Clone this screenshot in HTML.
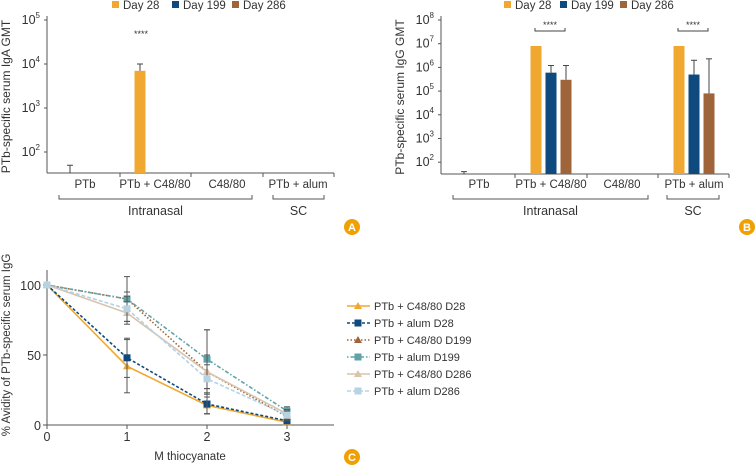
<!DOCTYPE html>
<html><head><meta charset="utf-8"><style>
body{margin:0;background:#fff;width:756px;height:466px;overflow:hidden;font-family:"Liberation Sans",sans-serif}
svg text{font-family:"Liberation Sans",sans-serif;fill:#333}
</style></head><body>
<svg id="s" width="756" height="466" xmlns="http://www.w3.org/2000/svg"></svg>
<script>
const days=["Day 28","Day 199","Day 286"];
const dayColors=["#f0a830","#0f4a7e","#a0643a"];
const groups=["PTb","PTb + C48/80","C48/80","PTb + alum"];
// Panel A (IgA) values per group per day (null = none)
const igaVals=[[null,null,null],[7000,null,null],[null,null,null],[null,null,null]];
const igaErr=[[50,null,null],[10000,null,null],[null,null,null],[null,null,null]];
// Panel B (IgG)
const iggVals=[[null,null,null],[8e6,6e5,3e5],[null,null,null],[8e6,5e5,8e4]];
const iggErr=[[40,null,null],[null,1.2e6,1.2e6],[null,null,null],[null,2e6,2.3e6]];
// Panel C
const xCats=[0,1,2,3];
const seriesNames=["PTb + C48/80 D28","PTb + alum D28","PTb + C48/80 D199","PTb + alum D199","PTb + C48/80 D286","PTb + alum D286"];
const s1=[100,42,14,2];
const s2=[100,48,15,3];
const s3=[100,90,38,6];
const s4=[100,90,47,10];
const s5=[100,80,38,8];
const s6=[100,83,33,7];
const e1=[0,19,6,1];
const e2=[0,14,7,1];
const e3=[0,16,30,3];
const e4=[0,5,21,3];
const e5=[0,8,12,3];
const e6=[0,9,10,3];
const NS="http://www.w3.org/2000/svg",S=document.getElementById('s');
function el(t,a,p){const e=document.createElementNS(NS,t);for(const k in a)e.setAttribute(k,a[k]);(p||S).appendChild(e);return e;}
function txt(x,y,s,a,p){const e=el('text',Object.assign({x:x,y:y},a||{}),p);e.textContent=s;return e;}

function barPanel(ox,pre,yTop,decTop,dec,vals,errs,ylabel,ticks,bottomY,axR,cats,gTicks,brackets,sig,legX){
  const g=el('g',{});
  const y=v=>yTop+(decTop-Math.log10(v))*dec;
  days.forEach((d,i)=>{const lg=el('g',{},g);
    el('rect',{x:legX[i],y:1,width:7,height:7,fill:dayColors[i]},lg);txt(legX[i]+11,9,d,{'font-size':'11.5'},lg);});
  el('line',{x1:ox,y1:yTop-4,x2:ox,y2:bottomY,stroke:'#555'},g);
  el('line',{x1:ox,y1:bottomY,x2:axR,y2:bottomY,stroke:'#555'},g);
  ticks.forEach(p=>{const yy=y(Math.pow(10,p));el('line',{x1:ox-3,y1:yy,x2:ox,y2:yy,stroke:'#555'},g);
    const t=txt(ox-7,yy+4,'10',{'font-size':'12.5','text-anchor':'end'},g);const sp=el('tspan',{dy:'-6','font-size':'8'},t);sp.textContent=p;});
  gTicks.forEach(x=>el('line',{x1:x,y1:bottomY,x2:x,y2:bottomY+4,stroke:'#555'},g));
  const ylab=txt(0,0,ylabel,{'font-size':'12',transform:`translate(${ox-37},${(yTop+bottomY)/2}) rotate(-90)`,'text-anchor':'middle'},g);
  
  const bw=11,sp=15;
  cats.forEach((cx,gi)=>{
    txt(cx,188,groups[gi],{'font-size':'11.5','text-anchor':'middle'},g);
    for(let d=0;d<3;d++){const bx=cx+(d-1)*sp-bw/2;const v=vals[gi][d];
      if(v!==null){const r=el('rect',{x:bx,y:y(v),width:bw,height:bottomY-y(v),fill:dayColors[d]},g);
        }
      const e=errs[gi][d];if(e!==null){const top=y(e),b=v!==null?y(v):bottomY;const mx=cx+(d-1)*sp;
        el('line',{x1:mx,y1:top,x2:mx,y2:b,stroke:'#444'},g);el('line',{x1:mx-3,y1:top,x2:mx+3,y2:top,stroke:'#444'},g);}}
  });
  brackets.forEach(b=>{el('path',{d:`M${b[0]},${b[2]-4}V${b[2]}H${b[1]}V${b[2]-4}`,fill:'none',stroke:'#555'},g);
    txt((b[0]+b[1])/2,b[2]+16,b[3],{'font-size':'12.5','text-anchor':'middle'},g);});
  sig.forEach(s=>{if(s[2])el('path',{d:`M${s[0]},${s[3]-3}V${s[3]}H${s[1]}V${s[3]-3}`,fill:'none',stroke:'#444'},g);
    txt((s[0]+s[1])/2,s[3]-3,'****',{'font-size':'9','text-anchor':'middle'},g);});
}
barPanel(47,'iga',20,5,44,igaVals,igaErr,'PTb-specific serum IgA GMT',[2,3,4,5],173,334,[85,155,227,298],[120,191,263,334],
  [[59,252,199,'Intranasal'],[273,324,199,'SC']],[[126,156,false,40]],[112,172,232]);
barPanel(441,'igg',20,8,23.7,iggVals,iggErr,'PTb-specific serum IgG GMT',[2,3,4,5,6,7,8],174,729,[479,551,622,694],[515,587,658,729],
  [[453,648,199,'Intranasal'],[667,719,199,'SC']],[[535,565,true,31],[678,708,true,31]],[504,560,620]);

const X=v=>47+v*80,Y=v=>425-v*1.4;
const gc=el('g',{});
el('line',{x1:47,y1:270,x2:47,y2:425,stroke:'#555'},gc);el('line',{x1:47,y1:425,x2:334,y2:425,stroke:'#555'},gc);
[0,50,100].forEach(v=>{el('line',{x1:43,y1:Y(v),x2:47,y2:Y(v),stroke:'#555'},gc);txt(41,Y(v)+5,v,{'font-size':'12.5','text-anchor':'end'},gc);});
xCats.forEach(v=>{el('line',{x1:X(v),y1:425,x2:X(v),y2:429,stroke:'#555'},gc);txt(X(v),441,v,{'font-size':'12.5','text-anchor':'middle'},gc);});
txt(190,460,'M thiocyanate',{'font-size':'11.5','text-anchor':'middle'},gc);
txt(0,0,'% Avidity of PTb-specific serum IgG',{'font-size':'11.5','text-anchor':'middle',transform:'translate(10,345) rotate(-90)'},gc);
const SV=[s1,s2,s3,s4,s5,s6],EV=[e1,e2,e3,e4,e5,e6];
const cols=['#f0a830','#0f4a7e','#a0643a','#5fa3a8','#d9c4ae','#b5d3e3'];
const dash=['none','3,2','1.5,2','1.5,2,4,2','none','4,2'];
const mk=['tri','sq','tri','sq','tri','sq'];
function marker(x,y,i,p){if(mk[i]==='tri')el('path',{d:`M${x},${y-4}L${x+4},${y+3}H${x-4}Z`,fill:cols[i]},p);else el('rect',{x:x-3.5,y:y-3.5,width:7,height:7,fill:cols[i]},p);}
SV.forEach((s,i)=>{const sg=el('g',{},gc);
  s.forEach((v,k)=>{const e=EV[i][k];if(e>0){el('line',{x1:X(k),y1:Y(v-e),x2:X(k),y2:Y(v+e),stroke:'#555'},sg);
    [v-e,v+e].forEach(w=>el('line',{x1:X(k)-3,y1:Y(w),x2:X(k)+3,y2:Y(w),stroke:'#555'},sg));}});
  el('polyline',{points:s.map((v,k)=>X(k)+','+Y(v)).join(' '),fill:'none',stroke:cols[i],'stroke-width':1.6,'stroke-dasharray':dash[i]},sg);
  s.forEach((v,k)=>marker(X(k),Y(v),i,sg));
  const ly=306+i*17;const lg=el('g',{},gc);
  el('line',{x1:347,y1:ly,x2:370,y2:ly,stroke:cols[i],'stroke-width':1.6,'stroke-dasharray':dash[i]},lg);marker(358,ly,i,lg);
  txt(374,ly+4,seriesNames[i],{'font-size':'11'},lg);});
[['A',352,227],['B',747,227],['C',352,457]].forEach(b=>{const bg=el('g',{});
  el('circle',{cx:b[1],cy:b[2],r:8,fill:'#f0a000'},bg);txt(b[1],b[2]+4,b[0],{'font-size':'11','font-weight':'bold','text-anchor':'middle',style:'fill:#fff'},bg);});
</script>
</body></html>
